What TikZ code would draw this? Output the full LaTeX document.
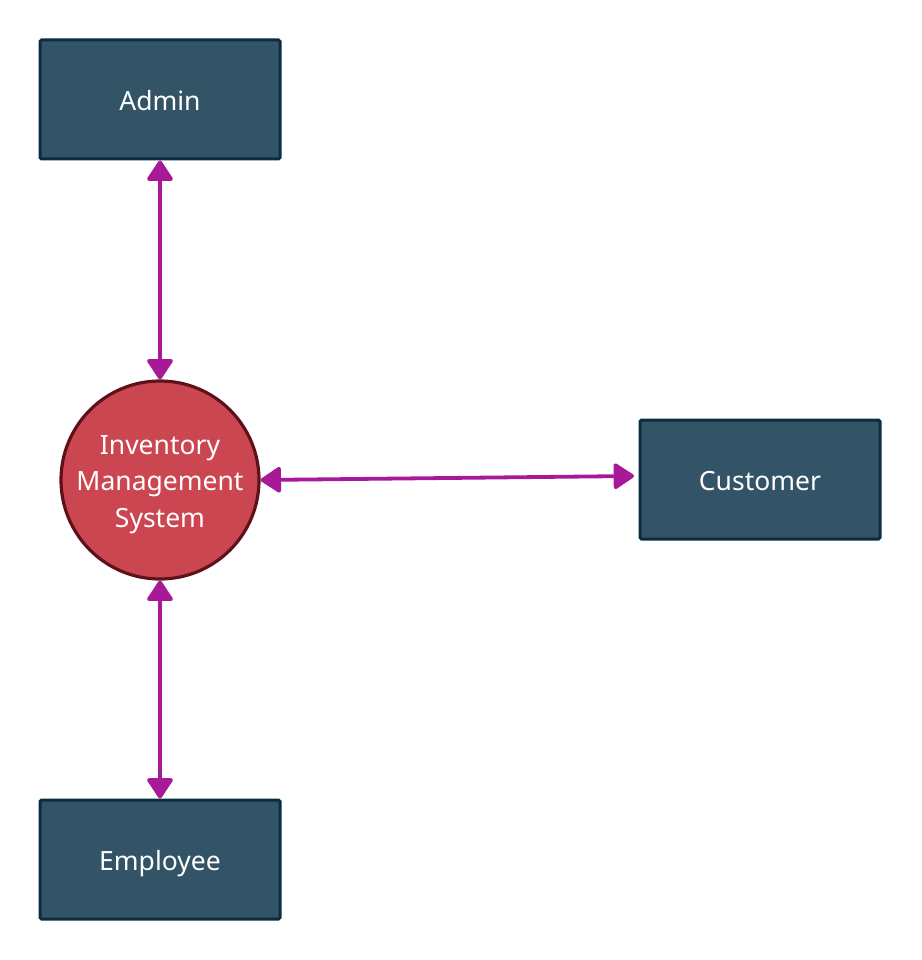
\documentclass[tikz,border=0pt]{standalone}
\usepackage{fontspec}
\setmainfont{Noto Sans}
\usetikzlibrary{arrows.meta}
\definecolor{boxfill}{HTML}{335466}
\definecolor{boxline}{HTML}{0B2D42}
\definecolor{circfill}{HTML}{CB4650}
\definecolor{circline}{HTML}{5E1219}
\definecolor{arrowc}{HTML}{A8199A}
\tikzset{
  entity/.style={draw=boxline, fill=boxfill, line width=3pt, minimum width=240pt, minimum height=119pt, inner sep=0pt, text=white, font=\fontsize{26.5}{30}\selectfont, text height=22pt, text depth=0pt, rounded corners=1.5pt},
  process/.style={circle, draw=circline, fill=circfill, line width=3.2pt, minimum size=198pt, inner sep=0pt, text=white, font=\fontsize{26.5}{36.5}\selectfont},
  flow/.style={draw=arrowc, line width=3.8pt, {Triangle[length=22pt,width=28pt,round]}-{Triangle[length=22pt,width=28pt,round]}}
}
\begin{document}
\begin{tikzpicture}[x=1pt,y=-1pt]
\useasboundingbox (0,0) rectangle (921,960);
\node[entity] (admin) at (160,99.5) {Admin};
\node[entity] (customer) at (760,479.5) {Customer};
\node[entity] (employee) at (160,859.5) {Employee};
\node[process] (ims) at (160,480) {\raisebox{-9.5pt}[0pt][0pt]{\begin{tabular}{@{}c@{}}Inventory\\Management\\System\end{tabular}}};
\coordinate (cin) at (634,476);
\draw[flow] (admin.south) -- (ims.north);
\draw[flow] (ims.east) -- (cin);
\draw[flow] (ims.south) -- (employee.north);
\end{tikzpicture}
\end{document}
